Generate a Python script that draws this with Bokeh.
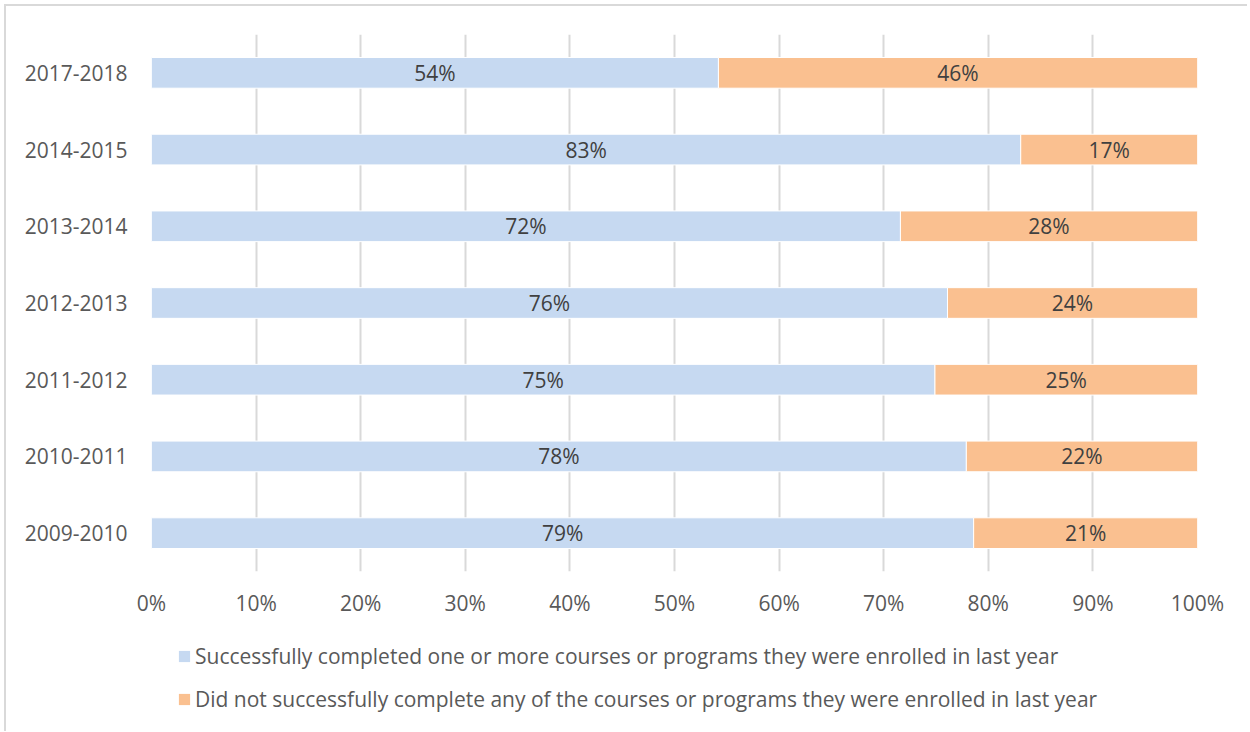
from bokeh.plotting import figure
from bokeh.layouts import column
from bokeh.models import ColumnDataSource, FactorRange, Legend, LegendItem, LabelSet, FixedTicker, CustomJSTickFormatter
from bokeh.core.properties import value
from bokeh.embed import file_html
from bokeh.resources import INLINE

years = ["2017-2018", "2014-2015", "2013-2014", "2012-2013", "2011-2012", "2010-2011", "2009-2010"]
completed = [54.2, 83.1, 71.6, 76.1, 74.9, 77.9, 78.6]
not_completed = [45.8, 16.9, 28.4, 23.9, 25.1, 22.1, 21.4]
x_ticks = [0, 10, 20, 30, 40, 50, 60, 70, 80, 90, 100]
series_names = [
    "Successfully completed one or more courses or programs they were enrolled in last year",
    "Did not successfully complete any of the courses or programs they were enrolled in last year",
]
colors = ["#C6D9F1", "#FAC090"]

FONT = "Open Sans"
TXT = "#595959"
FS = "21px"

src = ColumnDataSource(dict(
    year=years,
    c_left=[0] * len(years),
    c_right=completed,
    n_left=completed,
    n_right=[a + b for a, b in zip(completed, not_completed)],
    c_mid=[a / 2 for a in completed],
    n_mid=[a + b / 2 for a, b in zip(completed, not_completed)],
    c_lab=[f"{round(v)}%" for v in completed],
    n_lab=[f"{round(v)}%" for v in not_completed],
))

p = figure(
    frame_width=1046, frame_height=537,
    y_range=FactorRange(factors=list(reversed(years)), range_padding=0),
    x_range=(0, 100),
    output_backend="svg", toolbar_location=None,
    min_border_left=145, min_border_right=50, min_border_top=28, min_border_bottom=0,
)
p.outline_line_color = None
p.background_fill_color = "white"
p.border_fill_color = "white"

p.hbar(y="year", left="c_left", right="c_right", height=0.4, source=src,
       fill_color=colors[0], line_color="white", line_width=1)
p.hbar(y="year", left="n_left", right="n_right", height=0.4, source=src,
       fill_color=colors[1], line_color="white", line_width=1)

for xcol, lcol in (("c_mid", "c_lab"), ("n_mid", "n_lab")):
    p.add_layout(LabelSet(x=xcol, y="year", text=lcol, source=src,
                          text_align="center", text_baseline="middle",
                          text_font=value(FONT), text_font_size=FS, text_color="#404040"))

p.xgrid.grid_line_color = "#D9D9D9"
p.xgrid.grid_line_width = 2
p.ygrid.grid_line_color = None

p.xaxis.ticker = FixedTicker(ticks=x_ticks)
p.xaxis.formatter = CustomJSTickFormatter(code="return tick + '%'")
for ax in (p.xaxis[0], p.yaxis[0]):
    ax.axis_line_color = None
    ax.major_tick_line_color = None
    ax.minor_tick_line_color = None
    ax.major_label_text_font = FONT
    ax.major_label_text_font_size = FS
    ax.major_label_text_color = TXT
p.xaxis.major_label_standoff = 11
p.yaxis.major_label_standoff = 18

# legend strip below the chart (frame aligned with the chart's frame)
p2 = figure(width=1241, height=112, x_range=(0, 1), y_range=(0, 1),
            x_axis_type=None, y_axis_type=None,
            output_backend="svg", toolbar_location=None,
            min_border_left=145, min_border_right=50, min_border_top=0, min_border_bottom=0)
p2.outline_line_color = None
p2.grid.grid_line_color = None
p2.border_fill_color = "white"
# legend proxies: same series, lying outside this strip's visible ranges
d1 = p2.quad(left="c_right", right="n_right", bottom="c_mid", top="n_mid", source=src,
             fill_color=colors[0], line_color=None)
d2 = p2.quad(left="c_right", right="n_right", bottom="c_mid", top="n_mid", source=src,
             fill_color=colors[1], line_color=None)

legend = Legend(items=[LegendItem(label=series_names[0], renderers=[d1]),
                       LegendItem(label=series_names[1], renderers=[d2])],
                orientation="vertical", location=(26, 18),
                label_text_font=FONT, label_text_font_size=FS, label_text_color=TXT,
                glyph_width=14, glyph_height=14, label_standoff=4, spacing=15,
                border_line_color=None, background_fill_alpha=0,
                padding=0, margin=0)
p2.add_layout(legend, "center")

layout = column(p, p2, spacing=0, margin=(4, 0, 0, 4),
                styles={"border-top": "2px solid #D9D9D9", "border-left": "2px solid #D9D9D9"})

open("out.html", "w").write(file_html(layout, INLINE))
